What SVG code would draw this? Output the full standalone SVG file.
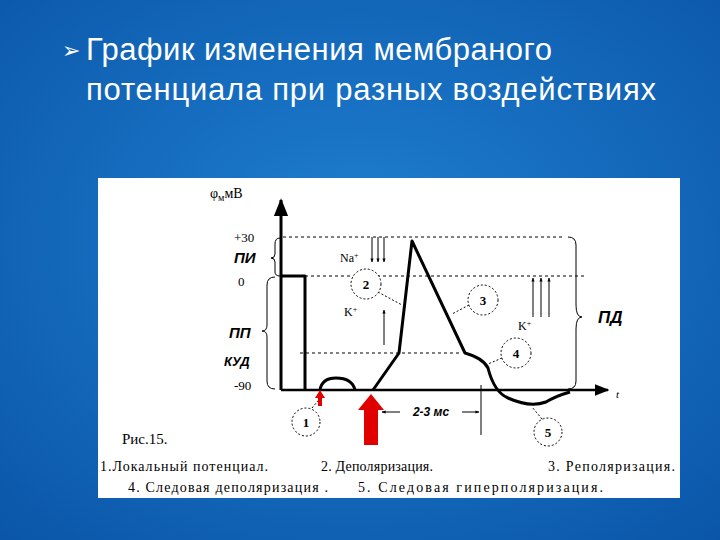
<svg xmlns="http://www.w3.org/2000/svg" width="720" height="540" viewBox="0 0 720 540">
<defs>
<radialGradient id="bg" cx="0.5" cy="0.45" r="0.75"><stop offset="0" stop-color="#1f7fd0"/><stop offset="1" stop-color="#0a55a8"/></radialGradient>
<marker id="ah" viewBox="0 0 10 10" refX="9" refY="5" markerWidth="6" markerHeight="6" orient="auto"><path d="M0,1 L10,5 L0,9 z" fill="#000"/></marker>
<marker id="ahs" viewBox="0 0 10 10" refX="9" refY="5" markerWidth="4" markerHeight="4" orient="auto"><path d="M0,1 L10,5 L0,9 z" fill="#000"/></marker>
<style>
.t{font-family:"Liberation Serif",serif;fill:#000}
.b{font-family:"Liberation Sans",sans-serif;font-weight:bold;font-style:italic;fill:#000}
.d{stroke:#000;stroke-width:1;stroke-dasharray:3,3;fill:none}
.c{stroke:#000;stroke-width:1;stroke-dasharray:2,2;fill:#fff}
.k{stroke:#000;fill:none}
</style>
</defs>
<rect width="720" height="540" fill="url(#bg)"/>
<g id="title" font-family="Liberation Sans,sans-serif" font-size="31" fill="#fff">
<text x="62" y="58" font-size="22">➢</text>
<text x="86" y="60" textLength="466">График изменения мембраного</text>
<text x="86" y="100" textLength="570">потенциала при  разных воздействиях</text>
</g>
<rect x="98" y="178" width="582" height="320" fill="#fff"/>
<g id="axes">
<line x1="281" y1="390" x2="281" y2="200" stroke="#000" stroke-width="3" marker-end="url(#ah)"/>
<line x1="281" y1="390" x2="608" y2="390" stroke="#000" stroke-width="2.5" marker-end="url(#ah)"/>
<text class="t" x="616" y="398" font-size="11" font-style="italic">t</text>
<text class="t" x="210" y="198" font-size="14">φ<tspan font-size="10" dy="3">м</tspan><tspan dy="-3">мВ</tspan></text>
<text class="t" x="234" y="242" font-size="13">+30</text>
<text class="b" x="234" y="263" font-size="15">ПИ</text>
<text class="t" x="238" y="286" font-size="13">0</text>
<text class="b" x="229" y="338" font-size="15">ПП</text>
<text class="b" x="224" y="366" font-size="13">КУД</text>
<text class="t" x="234" y="390" font-size="13">-90</text>
<path class="k" d="M280,238 q-5,0 -5,6 v10 q0,4 -4,4 q4,0 4,4 v10 q0,4 5,4"/>
<path class="k" d="M275,277 q-8,0 -8,8 v40 q0,6 -5,6 q5,0 5,6 v44 q0,8 8,8"/>
<path class="k" d="M568,237 q8,0 8,8 v60 q0,12 6,12 q-6,0 -6,12 v52 q0,8 -8,8"/>
<text class="b" x="598" y="323" font-size="17">ПД</text>
</g>
<g id="guides">
<line class="d" x1="283" y1="237" x2="565" y2="237"/>
<line class="d" x1="305" y1="276" x2="585" y2="276"/>
<line class="d" x1="300" y1="353" x2="460" y2="353"/>
<line x1="481" y1="385" x2="481" y2="435" stroke="#000"/>
</g>
<g id="curve" fill="none" stroke="#000" stroke-width="3" stroke-linejoin="round">
<path d="M281,276 H305 V390"/>
<path d="M320,390 Q322,378 336,378 Q352,378 355,390"/>
<path d="M373,390 L399,353 L412,241 L465,353 Q483,358 488,368 Q494,392 508,398 Q530,408 546,402 Q556,396 570,392"/>
</g>
<g id="ions" stroke="#000" stroke-width="1">
<text class="t" x="340" y="262" font-size="12" stroke="none">Na<tspan font-size="8" dy="-4">+</tspan></text>
<line x1="372" y1="237" x2="372" y2="262" marker-end="url(#ahs)"/>
<line x1="378" y1="237" x2="378" y2="262" marker-end="url(#ahs)"/>
<line x1="384" y1="237" x2="384" y2="262" marker-end="url(#ahs)"/>
<text class="t" x="344" y="316" font-size="12" stroke="none">K<tspan font-size="8" dy="-4">+</tspan></text>
<line x1="384" y1="345" x2="384" y2="310" marker-end="url(#ahs)"/>
<text class="t" x="518" y="330" font-size="12" stroke="none">K<tspan font-size="8" dy="-4">+</tspan></text>
<line x1="533" y1="317" x2="533" y2="278" marker-end="url(#ahs)"/>
<line x1="541" y1="317" x2="541" y2="278" marker-end="url(#ahs)"/>
<line x1="549" y1="317" x2="549" y2="278" marker-end="url(#ahs)"/>
</g>
<g id="callouts" font-size="13">
<line x1="312" y1="408" x2="322" y2="396" stroke="#000" stroke-dasharray="2,2"/>
<circle class="c" cx="306" cy="422" r="14"/><text class="t" x="306" y="427" text-anchor="middle" font-weight="bold">1</text>
<line x1="378" y1="292" x2="402" y2="305" stroke="#000" stroke-dasharray="2,2"/>
<circle class="c" cx="366" cy="284" r="15"/><text class="t" x="366" y="289" text-anchor="middle" font-weight="bold">2</text>
<line x1="469" y1="305" x2="452" y2="314" stroke="#000" stroke-dasharray="2,2"/>
<circle class="c" cx="483" cy="300" r="15"/><text class="t" x="483" y="305" text-anchor="middle" font-weight="bold">3</text>
<line x1="502" y1="358" x2="488" y2="364" stroke="#000" stroke-dasharray="2,2"/>
<circle class="c" cx="516" cy="353" r="15"/><text class="t" x="516" y="358" text-anchor="middle" font-weight="bold">4</text>
<line x1="542" y1="419" x2="532" y2="407" stroke="#000" stroke-dasharray="2,2"/>
<circle class="c" cx="548" cy="432" r="14"/><text class="t" x="548" y="437" text-anchor="middle" font-weight="bold">5</text>
</g>
<g id="stimuli" fill="#e00000">
<path d="M318,406 V398 H315 L320,390 L325,398 H322 V406 z"/>
<path d="M364,445 V410 H358 L371,394 L384,410 H378 V445 z"/>
</g>
<g id="interval">
<line x1="400" y1="412" x2="382" y2="412" stroke="#000" marker-end="url(#ahs)"/>
<line x1="462" y1="412" x2="479" y2="412" stroke="#000" marker-end="url(#ahs)"/>
<text class="b" x="431" y="416" font-size="12" text-anchor="middle">2-3 мс</text>
</g>
<g id="legend" class="t" font-size="14">
<text x="122" y="444" font-size="15">Рис.15.</text>
<text x="100" y="471" textLength="168">1.Локальный потенциал.</text>
<text x="321" y="471" textLength="112">2. Деполяризация.</text>
<text x="548" y="471" textLength="127">3. Реполяризация.</text>
<text x="128" y="492" textLength="200">4. Следовая деполяризация .</text>
<text x="358" y="492" textLength="245">5. Следовая гиперполяризация.</text>
</g>
</svg>
